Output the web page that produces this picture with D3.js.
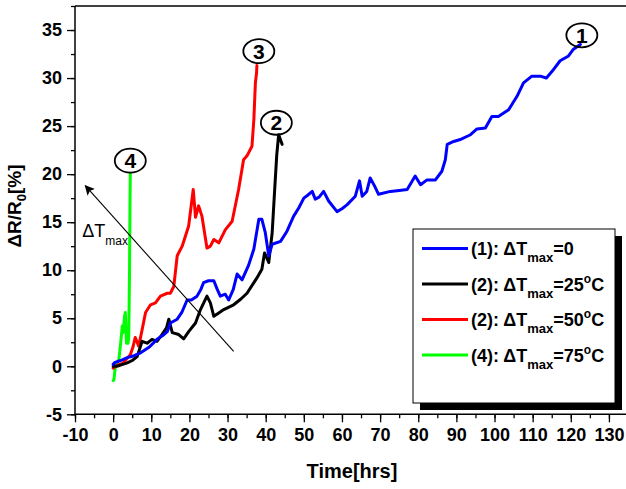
<!DOCTYPE html>
<html>
  <head>
    <meta charset="utf-8">
    <script src="https://d3js.org/d3.v7.min.js"></script>
    <title></title>
    <style>
    body {
      margin: 0;
      background-color: #fff;
    }
    svg {
      display: block;
      font-family: Arial, "Liberation Sans", sans-serif;
    }
    .line {
      fill: none;
      stroke-width: 3px;
      stroke-linejoin: round;
      stroke-linecap: round;
    }
    .tick-label {
      font-size: 18px;
      font-weight: bold;
    }
    </style>
  </head>
  <body>
    <script type="text/javascript">
      // curve (1) dT max = 0
      let blueT = [0, 0.5, 2, 3.7, 5.5, 7.2, 9.5, 11.5, 13, 14.2, 15, 16.8, 18, 19.4, 20.5, 22, 23, 23.7, 25, 26.4, 27.3, 28.1, 29.4, 30.3, 31.5, 32.5, 33.8, 35.5, 36.9, 38.2, 39, 39.9, 40.8, 41.7, 43.9, 45.5, 47.3, 48.7, 50, 51, 52.2, 53, 54, 55.2, 56.5, 58.7, 60, 61.3, 63.5, 64.6, 65.3, 66.5, 67.4, 68.5, 69.6, 72.7, 75, 77.1, 79.2, 80.6, 82.3, 84.5, 86.2, 87.1, 87.6, 89.3, 91, 93.7, 95.4, 97.6, 99.3, 101, 103.7, 105.9, 107.6, 109.8, 112, 113.6, 115.1, 117.2, 119.4, 120.7, 122.5]
      let blueY = [0.2, 0.4, 0.6, 0.9, 1.1, 1.4, 2.0, 2.8, 3.2, 3.6, 4.5, 4.9, 5.6, 6.9, 6.9, 7.3, 8.0, 8.7, 8.9, 8.9, 8.0, 7.3, 7.5, 6.9, 8.0, 9.6, 9.0, 10.5, 12.2, 15.3, 15.3, 13.9, 11.5, 12.7, 13.0, 14.0, 15.6, 16.5, 17.5, 17.8, 18.2, 17.4, 17.6, 18.2, 17.2, 16.1, 16.4, 16.8, 17.7, 19.3, 17.7, 18.2, 19.6, 18.8, 17.9, 18.2, 18.3, 18.4, 19.8, 18.9, 19.4, 19.4, 20.3, 21.5, 23.1, 23.4, 23.6, 24.1, 24.7, 24.8, 26.0, 26.0, 26.7, 28.1, 29.5, 30.2, 30.2, 30.0, 30.7, 31.8, 32.3, 33.0, 33.5]
      // curve (2) dT max = 25
      let blackT = [0, 1, 2.5, 3.7, 5, 6.3, 7.6, 8.9, 10.2, 11.5, 12.8, 14.0, 14.6, 15.5, 17.2, 18.5, 19.8, 21.6, 22.9, 24.6, 25.5, 26.4, 27.5, 29, 31.6, 33.5, 35.1, 36.9, 37.7, 39.0, 39.7, 40.8, 41.7, 42.3, 42.9, 43.4, 44.3]
      let blackY = [0, 0, 0.2, 0.35, 0.6, 1.0, 2.6, 2.4, 2.8, 2.6, 3.3, 4.0, 4.9, 3.5, 3.3, 2.85, 3.6, 4.5, 5.9, 7.3, 6.6, 5.2, 5.5, 5.9, 6.4, 7.0, 7.6, 8.7, 9.2, 10.1, 11.8, 10.8, 13.9, 18, 22, 24.1, 23.1]
      // curve (3) dT max = 50
      let redT = [0, 1, 2.5, 4.5, 5.2, 5.8, 6.7, 7.6, 8.5, 9.8, 11.1, 12.4, 14.2, 15, 15.9, 16.8, 18.1, 19.8, 21, 21.6, 22.4, 23.3, 24.6, 25.5, 26.4, 27.7, 29.4, 31.2, 32.9, 34.2, 35.1, 36.4, 36.9, 37.3, 37.6, 37.7]
      let redY = [-0.2, 0.1, 0.3, 1.2, 2.0, 3.0, 2.1, 3.8, 5.6, 6.4, 6.6, 7.3, 7.6, 7.6, 8.3, 11.5, 12.5, 14.6, 18.4, 15.5, 16.7, 15.6, 12.3, 12.5, 13.2, 12.85, 14.2, 15.1, 18.4, 21.5, 21.9, 22.9, 25.7, 29.5, 30.5, 31.3]
      // curve (4) dT max = 75
      let greenT = [0, 0.2, 0.6, 1.5, 2.0, 2.4, 2.6, 3.0, 3.2, 3.5, 3.9, 4.1, 4.3, 4.4, 4.5]
      let greenY = [-1.5, -1.4, 0, 0.7, 2.5, 4.2, 3.5, 5.2, 5.6, 2.4, 2.4, 3.1, 10, 16, 20.1]

      let xTicks = [-10, 0, 10, 20, 30, 40, 50, 60, 70, 80, 90, 100, 110, 120, 130]
      let yTicks = [-5, 0, 5, 10, 15, 20, 25, 30, 35]

      let legendLabels = ['(1): ', '(2): ', '(2): ', '(4): ']
      let legendValues = ['=0', '=25', '=50', '=75']
      let legendDegree = [false, true, true, true]

      // circled curve numbers, in data coords
      let markNames = ['1', '2', '3', '4']
      let markT = [122.9, 42.8, 38.2, 4.5]
      let markY = [34.45, 25.35, 32.8, 21.4]

      // dT max arrow
      let arrowT = [31.6, -7.3]
      let arrowY = [1.56, 18.8]

      let w = 626
      let h = 489
      let svg = d3.select('body')
                  .append('svg')
                  .attr('width', w)
                  .attr('height', h)

      let xScale = d3.scaleLinear()
                     .domain([-10, 135])
                     .range([75, 628])
      let yScale = d3.scaleLinear()
                     .domain([-5, 37.5])
                     .range([414.3, 6])

      let series = [
        {t: blueT, v: blueY, color: '#0000ff', width: 3.8},
        {t: blackT, v: blackY, color: '#000000', width: 3.2},
        {t: redT, v: redY, color: '#ff0000', width: 3.2},
        {t: greenT, v: greenY, color: '#00ff00', width: 3.2}
      ]

      let valueline = d3.line()
                        .x(d => xScale(d[0]))
                        .y(d => yScale(d[1]))

      // axes
      let xMinor = d3.range(-10, 135, 5)
      let yMinor = d3.range(-5, 37.6, 2.5)
      let plain = d => String(d)

      let xAxis = svg.append('g')
                     .attr('transform', `translate(0, ${yScale(-5)})`)
                     .call(d3.axisBottom(xScale).tickValues(xMinor).tickSize(4).tickFormat(''))
      xAxis.select('.domain').remove()
      xAxis.selectAll('line').attr('stroke-width', 1.3)
      let xAxisMajor = svg.append('g')
                          .attr('transform', `translate(0, ${yScale(-5)})`)
                          .call(d3.axisBottom(xScale).tickValues(xTicks).tickSize(8).tickPadding(6).tickFormat(plain))
      xAxisMajor.select('.domain').attr('d', `M75,0H626`).attr('stroke-width', 1.5)
      xAxisMajor.selectAll('line').attr('stroke-width', 1.3)
      xAxisMajor.selectAll('text')
                .attr('class', 'tick-label')
                .attr('fill', '#000')
                .style('font-family', 'Arial, "Liberation Sans", sans-serif')

      let yAxis = svg.append('g')
                     .attr('transform', `translate(${xScale(-10)}, 0)`)
                     .call(d3.axisLeft(yScale).tickValues(yMinor).tickSize(4).tickFormat(''))
      yAxis.select('.domain').remove()
      yAxis.selectAll('line').attr('stroke-width', 1.3)
      let yAxisMajor = svg.append('g')
                          .attr('transform', `translate(${xScale(-10)}, 0)`)
                          .call(d3.axisLeft(yScale).tickValues(yTicks).tickSize(8).tickPadding(5).tickFormat(plain))
      yAxisMajor.select('.domain').attr('d', `M0,${yScale(-5)}V${yScale(37.5)}`).attr('stroke-width', 1.5)
      yAxisMajor.selectAll('line').attr('stroke-width', 1.3)
      yAxisMajor.selectAll('text')
                .attr('class', 'tick-label')
                .attr('fill', '#000')
                .style('font-family', 'Arial, "Liberation Sans", sans-serif')

      // top frame
      svg.append('line')
         .attr('x1', xScale(-10))
         .attr('x2', w)
         .attr('y1', yScale(37.5))
         .attr('y2', yScale(37.5))
         .attr('stroke', '#000')
         .attr('stroke-width', 1.5)

      // axis titles
      svg.append('text')
         .attr('x', 352)
         .attr('y', 478)
         .attr('text-anchor', 'middle')
         .style('font-size', '20px')
         .style('font-weight', 'bold')
         .text('Time[hrs]')

      let yTitle = svg.append('text')
                      .attr('transform', 'translate(21, 206) rotate(-90)')
                      .attr('text-anchor', 'middle')
                      .style('font-size', '19px')
                      .style('font-weight', 'bold')
      yTitle.append('tspan').text('\u0394R/R')
      yTitle.append('tspan').attr('dy', 5).style('font-size', '13px').text('0')
      yTitle.append('tspan').attr('dy', -5).text('[%]')

      // curves, drawn back to front
      let order = [3, 2, 1, 0]
      order.forEach(i => {
        let s = series[i]
        svg.append('path')
           .attr('class', 'line')
           .datum(s.t.map((t, j) => [t, s.v[j]]))
           .attr('stroke', s.color)
           .attr('stroke-width', s.width)
           .attr('d', valueline)
      })

      // arrow
      svg.append('defs')
         .append('marker')
         .attr('id', 'head')
         .attr('viewBox', '0 0 10 10')
         .attr('refX', 9)
         .attr('refY', 5)
         .attr('markerWidth', 10)
         .attr('markerHeight', 10)
         .attr('markerUnits', 'userSpaceOnUse')
         .attr('orient', 'auto')
         .append('path')
         .attr('d', 'M0,0L10,5L0,10L2,5Z')
         .attr('fill', '#000')
      svg.append('line')
         .attr('x1', xScale(arrowT[0]))
         .attr('y1', yScale(arrowY[0]))
         .attr('x2', xScale(arrowT[1]))
         .attr('y2', yScale(arrowY[1]))
         .attr('stroke', '#000')
         .attr('stroke-width', 1.1)
         .attr('marker-end', 'url(#head)')

      let dT = svg.append('text')
                  .attr('x', xScale(-8.1))
                  .attr('y', yScale(13.5))
                  .style('font-size', '18px')
      dT.append('tspan').text('\u0394T')
      dT.append('tspan').attr('dy', 8).style('font-size', '12px').text('max')

      // circled numbers
      markNames.forEach((m, i) => {
        let cx = xScale(markT[i])
        let cy = yScale(markY[i])
        svg.append('ellipse')
           .attr('cx', cx)
           .attr('cy', cy)
           .attr('rx', 15.5)
           .attr('ry', 12)
           .attr('fill', 'none')
           .attr('stroke', '#000')
           .attr('stroke-width', 1.8)
        svg.append('text')
           .attr('x', cx)
           .attr('y', cy + 7.5)
           .attr('text-anchor', 'middle')
           .style('font-size', '21px')
           .style('font-weight', 'bold')
           .text(m)
      })

      // legend
      let lx = 413
      let ly = 229
      let lw = 202
      let lh = 174
      svg.append('rect')
         .attr('x', lx + 7)
         .attr('y', ly + 7)
         .attr('width', lw)
         .attr('height', lh)
         .attr('fill', '#000')
      svg.append('rect')
         .attr('x', lx)
         .attr('y', ly)
         .attr('width', lw)
         .attr('height', lh)
         .attr('fill', '#fff')
         .attr('stroke', '#000')
         .attr('stroke-width', 1)

      legendLabels.forEach((lab, i) => {
        let rowY = ly + 19.5 + i * 35.5
        svg.append('line')
           .attr('x1', lx + 9)
           .attr('x2', lx + 55)
           .attr('y1', rowY)
           .attr('y2', rowY)
           .attr('stroke', series[i].color)
           .attr('stroke-width', 3)
        let t = svg.append('text')
                   .attr('x', lx + 58)
                   .attr('y', rowY + 6.5)
                   .style('font-size', '18px')
                   .style('font-weight', 'bold')
        t.append('tspan').text(lab + '\u0394T')
        t.append('tspan').attr('dy', 7).style('font-size', '13px').text('max')
        t.append('tspan').attr('dy', -7).text(legendValues[i])
        if (legendDegree[i]) {
          t.append('tspan').attr('dy', -8).style('font-size', '12px').text('o')
          t.append('tspan').attr('dy', 8).text('C')
        }
      })
    </script>
  </body>
</html>
